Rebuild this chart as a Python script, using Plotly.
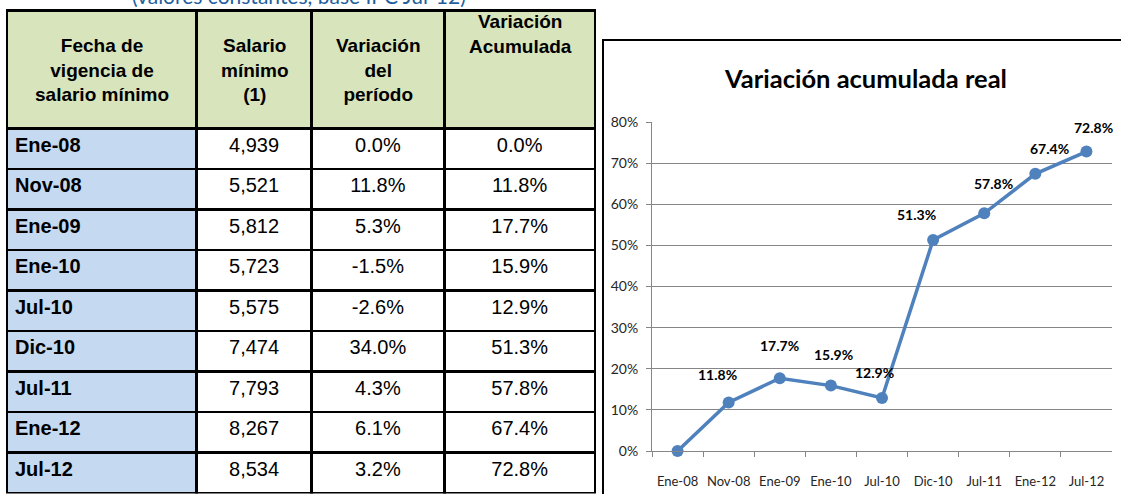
import plotly.graph_objects as go

# ---- data ----
fechas = ["Ene-08", "Nov-08", "Ene-09", "Ene-10", "Jul-10", "Dic-10", "Jul-11", "Ene-12", "Jul-12"]
salario = [4939, 5521, 5812, 5723, 5575, 7474, 7793, 8267, 8534]
var_periodo = [0.0, 11.8, 5.3, -1.5, -2.6, 34.0, 4.3, 6.1, 3.2]
var_acum = [0.0, 11.8, 17.7, 15.9, 12.9, 51.3, 57.8, 67.4, 72.8]
headers = ["Fecha de<br>vigencia de<br>salario mínimo", "Salario<br>mínimo<br>(1)",
           "Variación<br>del<br>período", "Variación<br>Acumulada"]
subtitle = "(valores constantes, base IPC Jul-12)"
chart_title = "Variación acumulada real"

# ---- style ----
W, H = 1121, 494
TFONT = "Liberation Sans, Arial, sans-serif"
CFONT = "Lato, Carlito, Calibri, sans-serif"
LINE = "#4F81BD"
GRID = "#868686"
TABLE_X0, TABLE_X1, TABLE_TOP = 7, 596, 10.5
COLW = [190, 115, 133, 151]
HEADER_H = 118
HEADER_MID = [70, 70, 70, 34]          # vertical centre (px from top) of each header text block
# label offsets (px) for data labels: (dx, dy upward); None = no label
label_offsets = [None, (-11, 28), (0, 33), (3, 31), (-8, 25), (-17, 26), (9, 30), (14, 25), (7, 24)]

fig = go.Figure()

# ---- table ----
cell_vals = [
    fechas,
    [f"{s:,}" for s in salario],
    [f"{v:.1f}%" for v in var_periodo],
    [f"{v:.1f}%" for v in var_acum],
]
n = len(fechas)
fig.add_trace(go.Table(
    domain=dict(x=[TABLE_X0 / W, TABLE_X1 / W], y=[0, 1 - TABLE_TOP / H]),
    columnwidth=COLW,
    header=dict(values=[""] * len(headers), fill_color="#D8E4BC",
                line=dict(color="black", width=2.5),
                font=dict(family=TFONT, size=19, color="black"),
                align="center", height=HEADER_H),
    cells=dict(values=cell_vals,
               fill_color=[["#C5D9F1"] * n, ["white"] * n, ["white"] * n, ["white"] * n],
               line=dict(color="black", width=2.5),
               font=dict(family=TFONT, size=20, color="black",
                         weight=["bold", "normal", "normal", "normal"]),
               align=["left", "center", "center", "center"], height=40.5),
))

annotations = []
# header texts (centred line by line)
tw = sum(COLW)
scale = (TABLE_X1 - TABLE_X0) / tw
acc = TABLE_X0
for h, cw, mid in zip(headers, COLW, HEADER_MID):
    cx = acc + cw * scale / 2
    acc += cw * scale
    annotations.append(dict(x=cx / W, y=1 - mid / H, xref="paper", yref="paper",
                            text=h, showarrow=False, xanchor="center", yanchor="middle",
                            align="center",
                            font=dict(family=TFONT, size=19, color="black", weight="bold")))

# ---- line chart ----
yvals = [v / 100 for v in var_acum]
fig.add_trace(go.Scatter(
    x=fechas, y=yvals, mode="lines+markers", cliponaxis=False,
    line=dict(color=LINE, width=3.5), marker=dict(color=LINE, size=12),
    showlegend=False, hoverinfo="skip",
))

for f, v, off in zip(fechas, var_acum, label_offsets):
    if off is None:
        continue
    annotations.append(dict(x=f, y=v / 100, xref="x", yref="y", text=f"<b>{v:.1f}%</b>",
                            showarrow=False, xshift=off[0], yshift=off[1],
                            font=dict(family=CFONT, size=14, color="black")))

annotations.append(dict(x=299 / W, y=1, xref="paper", yref="paper", text=subtitle,
                        showarrow=False, xanchor="center", yanchor="middle", yshift=5,
                        font=dict(family=CFONT, size=21, color="#1F5F9E")))
annotations.append(dict(x=865 / W, y=1 - 78 / H, xref="paper", yref="paper",
                        text="<b>" + chart_title + "</b>", showarrow=False,
                        xanchor="center", yanchor="middle",
                        font=dict(family=CFONT, size=25.5, color="black")))

fig.update_layout(
    width=W, height=H, autosize=False, margin=dict(l=0, r=0, t=0, b=0, pad=0),
    paper_bgcolor="white", plot_bgcolor="white", showlegend=False,
    annotations=annotations,
    shapes=[dict(type="rect", xref="paper", yref="paper", x0=603 / W, x1=1.05,
                 y0=-0.05, y1=1 - 40 / H, line=dict(color="black", width=2),
                 layer="below")],
    xaxis=dict(domain=[652 / W, 1112 / W], type="category", range=[-0.5, len(fechas) - 0.5],
               showline=True, linecolor=GRID,
               ticks="outside", tickson="boundaries", ticklen=5, tickcolor=GRID,
               showgrid=False, tickfont=dict(family=CFONT, size=13, color="#262626"),
               tickangle=0, automargin=False, ticklabelstandoff=18, fixedrange=True),
    yaxis=dict(domain=[1 - 451 / H, 1 - 122 / H], range=[0, 0.8], dtick=0.1, tickformat=".0%",
               showgrid=True, gridcolor=GRID, showline=True, linecolor=GRID, zeroline=False,
               ticks="outside", ticklen=5, tickcolor=GRID, automargin=False,
               ticklabelstandoff=5,
               tickfont=dict(family=CFONT, size=14, color="#262626"), fixedrange=True),
)

fig.write_html("out.html", config={"displayModeBar": False},
               post_script="document.body.style.margin='0px';")
